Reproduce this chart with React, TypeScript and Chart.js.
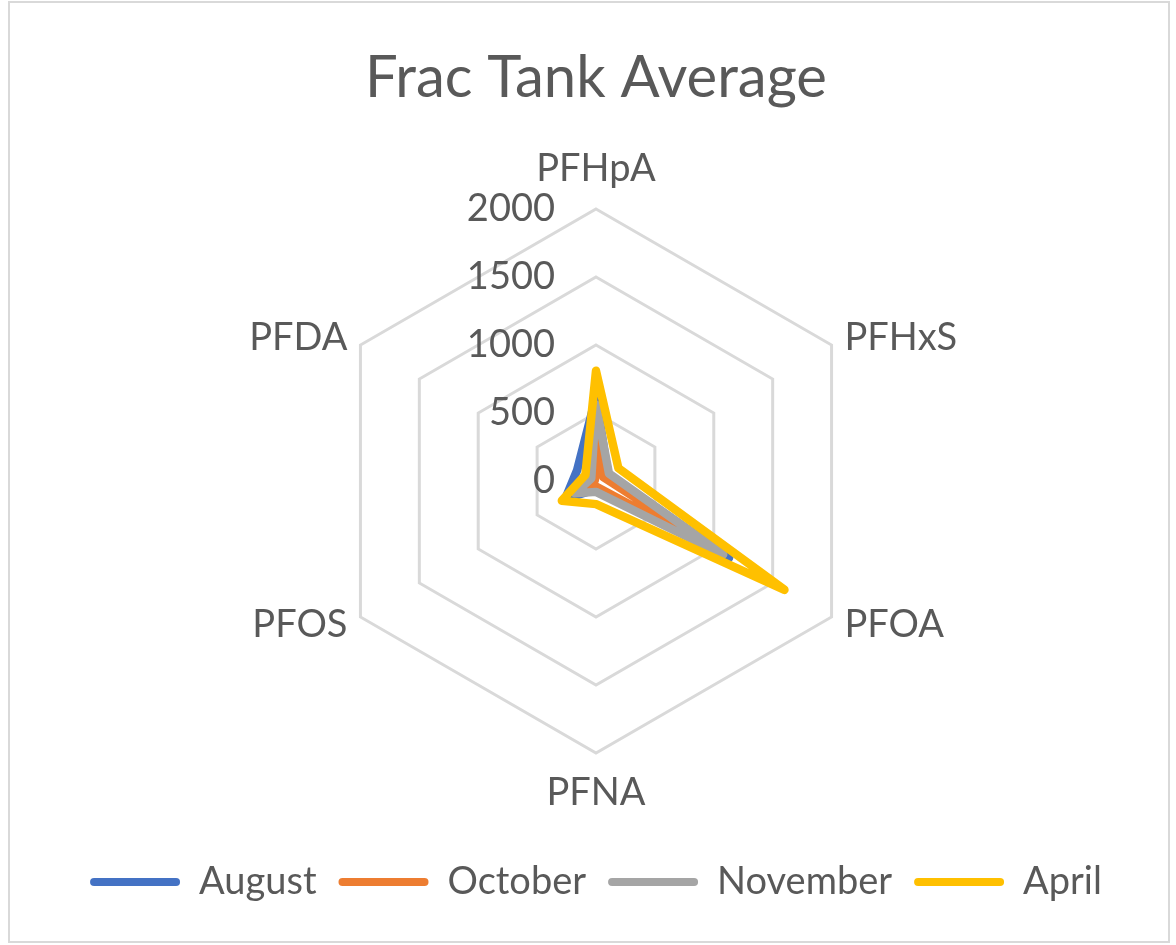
import React, { useEffect, useRef } from 'react';
import { Chart, registerables } from 'chart.js';

Chart.register(...registerables);

const categories = ['PFHpA', 'PFHxS', 'PFOA', 'PFNA', 'PFOS', 'PFDA'];
const august = [620, 100, 1130, 60, 260, 160];
const october = [400, 60, 1050, 40, 60, 10];
const november = [560, 110, 1080, 80, 180, 40];
const april = [810, 190, 1600, 170, 290, 90];
const seriesNames = ['August', 'October', 'November', 'April'];
const seriesColors = ['#4472C4', '#ED7D31', '#A5A5A5', '#FFC000'];
const tickMin = 0;
const tickMax = 2000;
const tickStep = 500;

const FONT = 'Lato';
const TEXT = '#595959';

const radarText = {
  id: 'radarText',
  beforeDatasetsDraw(chart: any) {
    const scale = chart.scales.r;
    const ctx = chart.ctx;
    ctx.save();
    ctx.fillStyle = TEXT;
    ctx.font = `38px ${FONT}`;
    ctx.textBaseline = 'middle';
    ctx.textAlign = 'right';
    scale.ticks.forEach((t: any) => {
      const d = scale.getDistanceFromCenterForValue(t.value);
      ctx.fillText(String(t.value), scale.xCenter - 41, scale.yCenter - d);
    });
    const R = scale.drawingArea;
    categories.forEach((lab, i) => {
      const probe = scale.getPointPosition(i, R);
      const c = Math.cos(probe.angle);
      let align = 'center';
      let dist = R + 40;
      if (Math.abs(c) > 0.01) {
        align = c > 0 ? 'left' : 'right';
        dist = R + 15;
      }
      const p = scale.getPointPosition(i, dist);
      ctx.textAlign = align;
      ctx.fillText(lab, p.x, p.y);
    });
    ctx.restore();
  },
};

export default function App() {
  const ref = useRef<HTMLCanvasElement>(null);
  useEffect(() => {
    const seriesData = [august, october, november, april];
    const chart = new Chart(ref.current as HTMLCanvasElement, {
      type: 'radar',
      data: {
        labels: categories,
        datasets: seriesNames.map((name, i) => ({
          label: name,
          data: seriesData[i],
          borderColor: seriesColors[i],
          backgroundColor: seriesColors[i],
          borderWidth: 8.5,
          borderJoinStyle: 'round',
          borderCapStyle: 'round',
          pointRadius: 0,
          pointHoverRadius: 0,
          fill: false,
          tension: 0,
          order: seriesNames.length - i,
        })),
      },
      options: {
        responsive: false,
        devicePixelRatio: 1,
        animation: false,
        layout: { padding: { left: 16, right: 0, top: 0, bottom: 34 } },
        scales: {
          r: {
            min: tickMin,
            max: tickMax,
            ticks: { stepSize: tickStep, display: false },
            grid: { color: '#D9D9D9', lineWidth: 3 },
            angleLines: { display: false },
            pointLabels: { display: false },
          },
        },
        plugins: {
          tooltip: { enabled: false },
          title: {
            display: true,
            text: 'Frac Tank Average',
            color: TEXT,
            font: { family: FONT, size: 58, weight: 'normal' },
            padding: { top: 43, bottom: 97 },
          },
          legend: {
            position: 'bottom',
            title: { display: true, text: '', font: { size: 10 }, padding: { top: 75, bottom: 0 } },
            labels: {
              color: TEXT,
              font: { family: FONT, size: 38 },
              boxWidth: 90,
              boxHeight: 8,
              padding: 22,
              sort: (a: any, b: any) => a.datasetIndex - b.datasetIndex,
              generateLabels: (c: any) =>
                (Chart.defaults.plugins.legend.labels.generateLabels as any)(c).map((l: any) => ({
                  ...l,
                  fillStyle: l.strokeStyle,
                  lineWidth: 0,
                  borderRadius: 4,
                })),
            },
          },
        },
      } as any,
      plugins: [radarText],
    });
    return () => chart.destroy();
  }, []);
  return (
    <div style={{ position: 'absolute', left: 0, top: 0, width: 1176, height: 945, background: '#fff' }}>
      <div
        style={{
          position: 'absolute',
          left: 8,
          top: 1,
          width: 1158,
          height: 938,
          border: '2px solid #D9D9D9',
        }}
      />
      <canvas ref={ref} width={1176} height={945} style={{ position: 'absolute', left: 0, top: 0 }} />
    </div>
  );
}
